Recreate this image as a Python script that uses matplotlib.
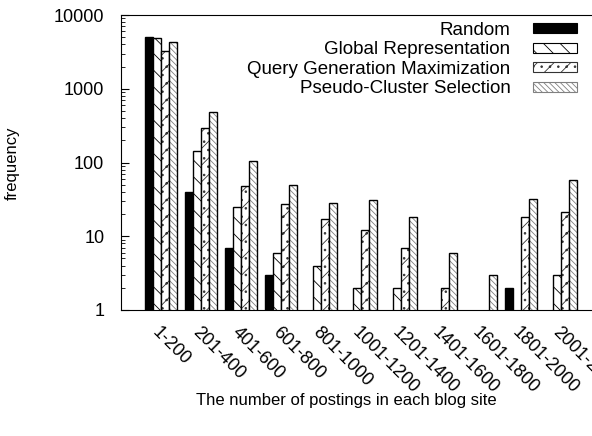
import numpy as np
import matplotlib
matplotlib.use('Agg')
from matplotlib import pyplot as plt
from matplotlib.patches import Patch

plt.rcParams['font.family'] = ['Liberation Sans', 'DejaVu Sans']
plt.rcParams['hatch.linewidth'] = 0.6

# dane
kategorie = ['1-200', '201-400', '401-600', '601-800', '801-1000', '1001-1200',
             '1201-1400', '1401-1600', '1601-1800', '1801-2000', '2001-2200']
random_sel = [5000, 40, 7, 3, 0, 0, 0, 0, 0, 2, 0]
global_rep = [4900, 145, 25, 6, 4, 2, 2, 0, 0, 0, 3]
qgm = [3300, 290, 48, 27, 17, 12, 7, 2, 0, 18, 21]
pcs = [4250, 480, 104, 49, 28, 31, 18, 6, 3, 32, 58]

nazwy = ['Random', 'Global Representation',
         'Query Generation Maximization', 'Pseudo-Cluster Selection']
serie = [random_sel, global_rep, qgm, pcs]

fig = plt.figure(figsize=(5.92, 4.36), dpi=100)
ax = fig.add_axes([121/592, 1 - 310/436, 480/592, 295/436])

x = np.arange(len(kategorie))
w = 0.2
offs = [-1.5, -0.5, 0.5, 1.5]
style = [  # facecolor, hatch, kolor kreskowania
    ('black', None, 'black'),
    ('white', '\\\\', 'black'),
    ('white', '..//', '#333333'),
    ('white', '\\\\\\\\\\\\', '#808080'),
]

for s, o, (fc, h, hc), n in zip(serie, offs, style, nazwy):
    v = np.array(s, dtype=float)
    v[v <= 0] = np.nan
    if h is not None:
        ax.bar(x + o*w, v, w, color=fc, hatch=h, edgecolor=hc, linewidth=0)
    ax.bar(x + o*w, v, w, facecolor=fc if h is None else 'none',
           edgecolor='black', linewidth=1.0)

leg_h = [Patch(facecolor=fc, edgecolor=hc, hatch=h, linewidth=0.8)
         for (fc, h, hc) in style]

ax.set_yscale('log')
ax.set_ylim(1, 10000)
ax.set_xlim(-1.0, 11.0)
ax.set_yticks([1, 10, 100, 1000, 10000])
ax.set_yticklabels(['1', '10', '100', '1000', '10000'])
ax.tick_params(axis='y', which='both', direction='in', right=False, labelsize=13, pad=12)
ax.tick_params(axis='y', which='major', length=6)
ax.tick_params(axis='y', which='minor', length=3)
ax.set_xticks(x)
ax.set_xticklabels(kategorie, rotation=-45, ha='left', va='top',
                   rotation_mode='anchor', fontsize=13)
ax.tick_params(axis='x', length=0, pad=10)

# markerfirst=False -> wiersze wyrownane do prawej
leg = ax.legend(leg_h, nazwy, loc='upper right', bbox_to_anchor=(577/592, 1 - 22/436),
                bbox_transform=fig.transFigure,
                frameon=False, markerfirst=False, fontsize=13.5,
                handlelength=2.35, handleheight=0.45, labelspacing=0.13,
                borderaxespad=0, borderpad=0, handletextpad=1.2)

fig.text(12/592, 1 - 163/436, 'frequency', rotation=90, ha='center', va='center', fontsize=12)
fig.text(346/592, 1 - 400/436, 'The number of postings in each blog site',
         ha='center', va='center', fontsize=12)

fig.savefig('out.png', dpi=100)
